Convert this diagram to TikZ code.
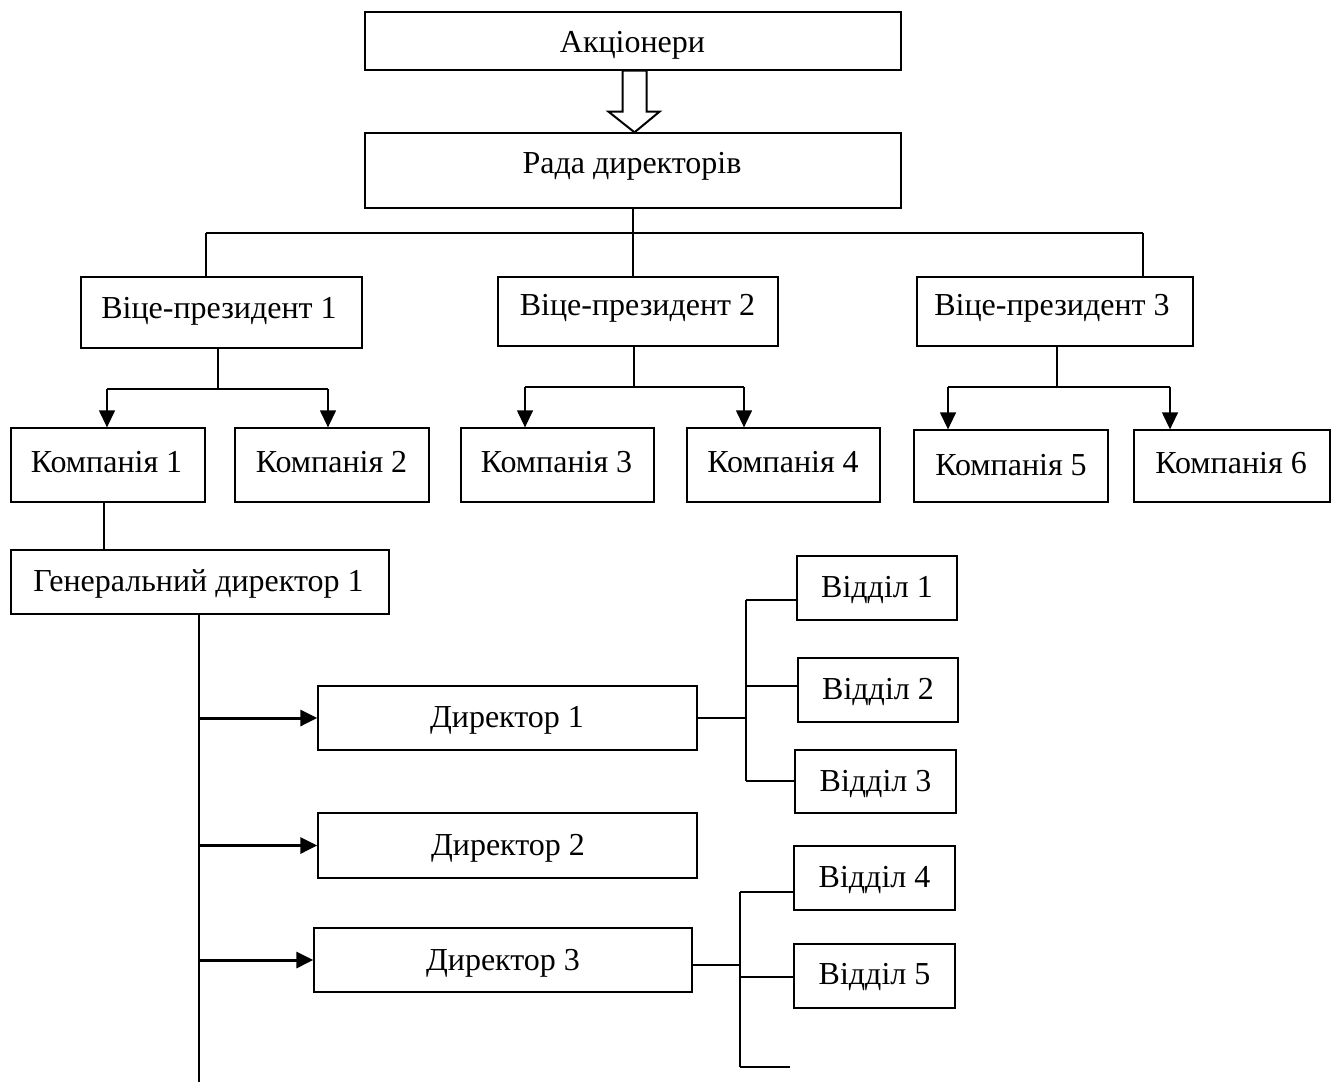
\documentclass[tikz,border=0pt]{standalone}
\usepackage{fontspec}
\setmainfont{Liberation Serif}
\usetikzlibrary{arrows.meta,calc}
\begin{document}
\begin{tikzpicture}[x=0.5pt,y=-0.5pt,
  box/.style={draw, line width=0.65pt, inner sep=0pt, fill=white},
  sz/.style 2 args={minimum width=#1*0.5pt, minimum height=#2*0.5pt},
  txt/.style={inner sep=0pt, yshift=-1.8pt, font=\fontsize{16}{19}\selectfont},
  conn/.style={line width=0.65pt},
  carrow/.style={line width=0.65pt, -{Triangle[length=8.5pt,width=8pt]}},
  darrow/.style={line width=1.5pt, -{Triangle[length=8.5pt,width=8pt]}}]
\useasboundingbox (0,0) rectangle (1336,1082);

% boxes
\node[box, sz={536}{58}] (A) at (633,41) {};
\node[txt] (At) at (632.5,42) {Акціонери};
\node[box, sz={536}{75}] (R) at (633,170.5) {};
\node[txt] (Rt) at (632,163) {Рада директорів};

\node[box, sz={281}{71}] (VP1) at (221.5,312.5) {};
\node[txt] (VP1t) at (219,308) {Віце-президент 1};
\node[box, sz={280}{69}] (VP2) at (638,311.5) {};
\node[txt] (VP2t) at (637.5,305) {Віце-президент 2};
\node[box, sz={276}{69}] (VP3) at (1055,311.5) {};
\node[txt] (VP3t) at (1052,305) {Віце-президент 3};

\node[box, sz={194}{74}] (K1) at (108,465) {};
\node[txt] (K1t) at (106.5,458) {Компанія 1};
\node[box, sz={194}{74}] (K2) at (332,465) {};
\node[txt] (K2t) at (331.5,458) {Компанія 2};
\node[box, sz={193}{74}] (K3) at (557.5,465) {};
\node[txt] (K3t) at (556.5,458) {Компанія 3};
\node[box, sz={193}{74}] (K4) at (783.5,465) {};
\node[txt] (K4t) at (783,458) {Компанія 4};
\node[box, sz={194}{72}] (K5) at (1011,466) {};
\node[txt] (K5t) at (1011,461) {Компанія 5};
\node[box, sz={196}{72}] (K6) at (1232,466) {};
\node[txt] (K6t) at (1231,459) {Компанія 6};

\node[box, sz={378}{64}] (G) at (200,582) {};
\node[txt] (Gt) at (198.5,580) {Генеральний директор 1};

\node[box, sz={379}{64}] (D1) at (507.5,718) {};
\node[txt] (D1t) at (507,717) {Директор 1};
\node[box, sz={379}{65}] (D2) at (507.5,845.5) {};
\node[txt] (D2t) at (508,845) {Директор 2};
\node[box, sz={378}{64}] (D3) at (503,960) {};
\node[txt] (D3t) at (503,960) {Директор 3};

\node[box, sz={160}{64}] (O1) at (877,588) {};
\node[txt] (O1t) at (877,586) {Відділ 1};
\node[box, sz={160}{64}] (O2) at (878,690) {};
\node[txt] (O2t) at (878,688) {Відділ 2};
\node[box, sz={161}{63}] (O3) at (875.5,781.5) {};
\node[txt] (O3t) at (875.5,780) {Відділ 3};
\node[box, sz={161}{64}] (O4) at (874.5,878) {};
\node[txt] (O4t) at (874.5,876) {Відділ 4};
\node[box, sz={161}{64}] (O5) at (874.5,976) {};
\node[txt] (O5t) at (874.5,973) {Відділ 5};

% hollow arrow from shareholders to board
\draw[line width=1pt, fill=white, line join=miter]
  ($(A.south)+(-10.5,0)$) -- ($(A.south)+(13.5,0)$) -- ($(A.south)+(13.5,41)$)
  -- ($(A.south)+(26.5,41)$) -- ($(R.north)+(1.5,0)$) -- ($(A.south)+(-24.5,41)$)
  -- ($(A.south)+(-10.5,41)$) -- cycle;

% board to vice-presidents
\coordinate (h1) at (206,233);
\coordinate (h3) at (1143,233);
\draw[conn] (h1) -- (h3);
\draw[conn] (h1) -- (h1 |- VP1.north);
\draw[conn] (h3) -- (h3 |- VP3.north);
\draw[conn] (R.south) -- (R.south |- VP2.north);

% VP1 to companies 1,2
\coordinate (v1) at (218,389);
\coordinate (v1l) at (107,389);
\coordinate (v1r) at (328,389);
\draw[conn] (VP1.south -| v1) -- (v1);
\draw[conn] (v1l) -- (v1r);
\draw[carrow] (v1l) -- (v1l |- K1.north);
\draw[carrow] (v1r) -- (v1r |- K2.north);

% VP2 to companies 3,4
\coordinate (v2) at (634,387);
\coordinate (v2l) at (525,387);
\coordinate (v2r) at (744,387);
\draw[conn] (VP2.south -| v2) -- (v2);
\draw[conn] (v2l) -- (v2r);
\draw[carrow] (v2l) -- (v2l |- K3.north);
\draw[carrow] (v2r) -- (v2r |- K4.north);

% VP3 to companies 5,6
\coordinate (v3) at (1057,387);
\coordinate (v3l) at (948,387);
\coordinate (v3r) at (1170,387);
\draw[conn] (VP3.south -| v3) -- (v3);
\draw[conn] (v3l) -- (v3r);
\draw[carrow] (v3l) -- (v3l |- K5.north);
\draw[carrow] (v3r) -- (v3r |- K6.north);

% company 1 to general director
\coordinate (k1x) at (104,0);
\draw[conn] (K1.south -| k1x) -- (G.north -| k1x);

% general director trunk
\coordinate (gx) at (199,0);
\coordinate (gend) at (199,1082);
\draw[conn] (G.south -| gx) -- (gend);
\draw[darrow] (D1.west -| gx) -- (D1.west);
\draw[darrow] (D2.west -| gx) -- (D2.west);
\draw[darrow] (D3.west -| gx) -- (D3.west);

% director 1 to departments 1-3
\coordinate (b1t) at (746,600);
\coordinate (b1b) at (746,781);
\draw[conn] (D1.east) -- (D1.east -| b1t);
\draw[conn] (b1t) -- (b1b);
\draw[conn] (b1t) -- (b1t -| O1.west);
\draw[conn] (746,686) -- (O2.west |- 0,686);
\draw[conn] (b1b) -- (b1b -| O3.west);

% director 3 to departments 4-5
\coordinate (b2t) at (740,892);
\coordinate (b2b) at (740,1067);
\coordinate (b2e) at (790,1067);
\draw[conn] (D3.east |- 0,965) -- (740,965);
\draw[conn] (b2t) -- (b2b);
\draw[conn] (b2t) -- (b2t -| O4.west);
\draw[conn] (740,977) -- (O5.west |- 0,977);
\draw[conn] (b2b) -- (b2e);
\end{tikzpicture}
\end{document}
